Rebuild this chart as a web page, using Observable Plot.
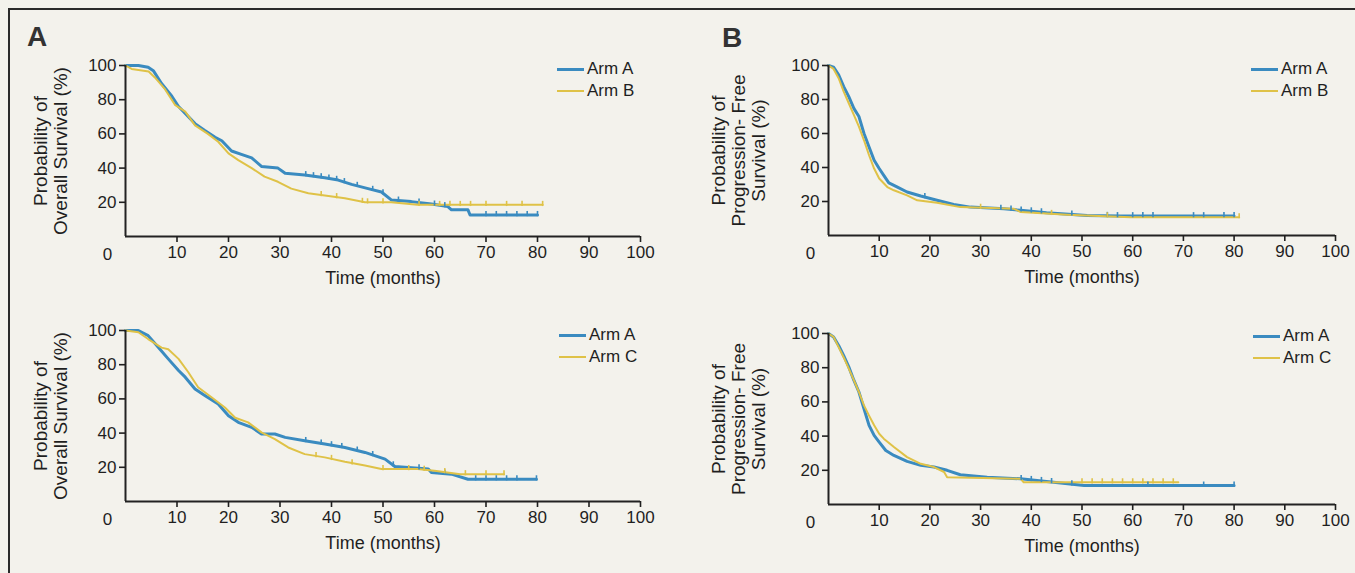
<!DOCTYPE html>
<html>
<head>
<meta charset="utf-8">
<script src="https://cdn.jsdelivr.net/npm/d3@7"></script>
<script src="https://cdn.jsdelivr.net/npm/@observablehq/plot@0.6"></script>
<style>
  html, body { margin: 0; padding: 0; background: #f3f2ec; }
  #stage { position: relative; width: 1355px; height: 573px; overflow: hidden; background: #f3f2ec;
           font-family: "Liberation Sans", Arial, sans-serif; color: #1f1f1f; }
  .frame-top { position: absolute; left: 8px; top: 8px; width: 1347px; height: 2px; background: #2a2a2a; }
  .frame-left { position: absolute; left: 8px; top: 8px; width: 2px; height: 565px; background: #2a2a2a; }
  .panel { position: absolute; }
  .letter { position: absolute; font-weight: bold; font-size: 28px; line-height: 28px; color: #333; }
  .legend { position: absolute; font-size: 17px; }
  .legend .item { display: flex; align-items: center; height: 22px; line-height: 22px; }
  .legend .sw { display: inline-block; width: 27px; margin-right: 3px; }
</style>
</head>
<body>
<div id="stage">
  <div class="frame-top"></div>
  <div class="frame-left"></div>
</div>
<script>
// ---------- data ----------
const xTicks = [10, 20, 30, 40, 50, 60, 70, 80, 90, 100];
const yTicks = [20, 40, 60, 80, 100];
const xLabel = "Time (months)";
const osLabel = "Probability of\nOverall Survival (%)";
const pfsLabel = "Probability of\nProgression- Free\nSurvival (%)";
const armNames = ["Arm A", "Arm B", "Arm C"];
const colors = { "Arm A": "#3a8bc0", "Arm B": "#dfc247", "Arm C": "#dfc247" };

// Panel A top: overall survival, Arm A vs Arm B
const osAB_A_t = [0, 2.5, 4.4, 5.4, 7.0, 9.0, 10.3, 11.6, 13.5, 15.4, 17.4, 18.7, 20.6, 22.5, 24.5, 26.4, 29.6, 31.0, 34.8, 38.7, 41.3, 43.9, 47.1, 49.7, 51.6, 55.5, 59.4, 62.6, 63.3, 66.5, 66.9, 80];
const osAB_A_s = [100, 100, 99, 97, 89.5, 82, 76, 72, 66, 62, 58, 56, 50, 48, 46, 41, 40, 37, 36, 34.4, 33, 30.5, 28, 26, 21.4, 20.4, 19, 17.5, 15.6, 15.6, 12.6, 12.6];
const osAB_B_t = [0, 1.2, 4.5, 5.7, 7.7, 9.6, 11.6, 13.5, 16, 18, 20, 21.9, 24.5, 27, 29.6, 32.2, 35.5, 38.7, 42.6, 46.5, 51.6, 56.7, 81];
const osAB_B_s = [100, 98, 96.5, 93, 86, 77, 73, 65, 60, 55.4, 48.6, 44.7, 40, 35, 32, 28, 25.3, 24, 22.4, 20, 20, 18.5, 18.5];
const osAB_A_cens = [35, 36.5, 38, 39.5, 41, 42.5, 45, 48, 50, 53, 57, 60, 62, 70, 72, 74, 76, 78, 80];
const osAB_B_cens = [38, 41, 46, 47, 50, 57, 61, 63, 65, 67, 70, 74, 77, 81];

// Panel B top: progression-free survival, Arm A vs Arm B
const pfsAB_A_t = [0, 1, 2, 3, 4, 5, 6, 7, 8, 9, 10, 10.9, 11.9, 13.6, 15.5, 18.2, 21.4, 24.7, 28, 34.6, 37.9, 43, 51, 57.6, 80];
const pfsAB_A_s = [100, 99, 94.5, 87.6, 81.7, 74.8, 70, 60, 52, 44.3, 39.4, 35.4, 31, 28.5, 25.6, 23.2, 20.7, 18.3, 16.7, 15.7, 14.8, 13.4, 11.8, 11.4, 11.4];
const pfsAB_B_t = [0, 1, 2, 3, 4, 5, 6, 7, 8, 9, 10, 11.6, 12.9, 15.5, 17.5, 21.4, 26, 36.6, 37.9, 47.1, 59.6, 81];
const pfsAB_B_s = [100, 98, 92.5, 84.6, 77.8, 71, 64, 56, 47.2, 39.4, 33.5, 28.5, 26.6, 23.6, 20.7, 19.3, 16.7, 15.7, 13.8, 12.2, 10.8, 10.8];
const pfsAB_A_cens = [19, 34, 36, 38, 40, 42, 48, 55, 57, 60, 62, 64, 72, 74, 78, 80];
const pfsAB_B_cens = [30, 44, 55, 81];

// Bottom left: overall survival, Arm A vs Arm C
const osAC_A_t = [0, 2.5, 4.4, 6.4, 8.3, 10.3, 11.6, 13.5, 15.4, 18, 20, 21.9, 24.5, 26.4, 29, 31, 34.8, 38.7, 42.6, 46.5, 50.4, 52.3, 58.8, 59.4, 63.3, 66.5, 79.8];
const osAC_A_s = [100, 100, 97, 90, 83.4, 76.6, 72.7, 65.8, 62, 57, 50.2, 46.3, 43.4, 39.5, 39.5, 37.5, 35.5, 33.6, 31.6, 28.7, 24.8, 20.5, 19, 17, 16, 13, 13];
const osAC_C_t = [0, 2.5, 4.4, 7, 8.3, 10.3, 12.2, 14.1, 16.7, 19.3, 21.3, 23.8, 26.4, 29, 31.6, 34.8, 38.7, 42.6, 46.5, 49.7, 56.7, 60, 65, 73.5];
const osAC_C_s = [100, 99, 95, 90, 89, 83.4, 75.6, 66.8, 61, 55, 49, 46.3, 40.4, 36.5, 31.6, 27.7, 25.8, 23.2, 21, 19, 19, 18, 16, 16];
const osAC_A_cens = [35, 38, 40, 42, 45, 48, 52, 57, 62, 68, 70, 72, 74, 76, 79.8];
const osAC_C_cens = [37, 40, 44, 50, 55, 58, 62, 66, 70, 73.5];

// Bottom right: progression-free survival, Arm A vs Arm C
const pfsAC_A_t = [0, 1, 2, 3, 4, 5, 6, 7, 8, 9, 10, 11.3, 12.9, 15.5, 18.2, 20.8, 23.4, 26, 31.3, 37.9, 43, 50.4, 80];
const pfsAC_A_s = [100, 98, 93, 87, 80.5, 72.7, 65.8, 56, 46.3, 40.4, 36.5, 31.6, 28.7, 25.2, 22.9, 21.9, 20, 17.4, 16, 15, 13.5, 11.1, 11.1];
const pfsAC_C_t = [0, 1, 2, 3, 4, 5, 6, 7, 8, 9, 10, 10.9, 12.9, 15.5, 18.2, 20.8, 22.8, 23.4, 37.9, 38.5, 69];
const pfsAC_C_s = [100, 98, 92, 86, 79.5, 72.7, 65.8, 58, 52, 46.3, 41.4, 38.5, 33.6, 27.7, 23.8, 21.9, 19, 16, 15, 13, 13];
const pfsAC_A_cens = [38, 40, 42, 44, 48, 63, 74, 80];
const pfsAC_C_cens = [50, 52, 54, 56, 58, 60, 62, 64, 66, 68];

// ---------- drawing ----------
const stage = document.getElementById("stage");
const fontFamily = '"Liberation Sans", Arial, sans-serif';

function rows(times, surv) { return times.map((t, i) => ({ t, s: surv[i] })); }
function survAt(t, times, surv) {
  const i = d3.bisectRight(times, t) - 1;
  if (i >= times.length - 1) return surv[surv.length - 1];
  const f = (t - times[i]) / (times[i + 1] - times[i]);
  return surv[i] + f * (surv[i + 1] - surv[i]);
}
const censorSymbol = {
  draw(ctx, size) {
    const r = Math.sqrt(size / Math.PI);
    ctx.moveTo(0, -r);
    ctx.lineTo(0, r * 0.3);
  }
};

function panel(cfg) {
  const marks = [];
  cfg.series.forEach(sr => {
    marks.push(Plot.line(rows(sr.t, sr.s), { x: "t", y: "s", stroke: colors[sr.name], strokeWidth: sr.name === "Arm A" ? 3 : 2 }));
  });
  cfg.series.forEach(sr => {
    const cd = sr.cens.map(t => ({ t, s: survAt(t, sr.t, sr.s) }));
    marks.push(Plot.dot(cd, { x: "t", y: "s", symbol: censorSymbol, r: 4, stroke: colors[sr.name], strokeWidth: 1.6, fill: "none" }));
  });
  marks.push(
    Plot.ruleX([0], { stroke: "#222", strokeWidth: 2 }),
    Plot.ruleY([0], { stroke: "#222", strokeWidth: 2 }),
    Plot.axisX({ ticks: xTicks, tickSize: 6, tickPadding: 3, label: null, strokeWidth: 1.6, fontSize: 17 }),
    Plot.axisY({ ticks: yTicks, tickSize: 6, tickPadding: 3, label: null, strokeWidth: 1.6, fontSize: 17 }),
    Plot.text([0], { x: d => d, y: () => 0, text: d => String(d), dx: -18, dy: 18, fontSize: 17, fill: "#1f1f1f" }),
    Plot.text([xLabel], { frameAnchor: "bottom", dy: 47, fontSize: 18, fill: "#1f1f1f" }),
    Plot.text([cfg.ylabel], { frameAnchor: "left", textAnchor: "middle", lineAnchor: "middle", rotate: -90, dx: cfg.ylabelDx, fontSize: 19, lineHeight: 1.05, fill: "#1f1f1f" })
  );
  const svg = Plot.plot({
    width: cfg.width, height: cfg.height,
    marginLeft: cfg.mL, marginRight: cfg.mR, marginTop: cfg.mT, marginBottom: cfg.mB,
    x: { domain: [0, 100] },
    y: { domain: [0, 100] },
    style: { fontFamily, fontSize: "17px", background: "transparent", color: "#1f1f1f", overflow: "visible" },
    marks
  });
  const wrap = document.createElement("div");
  wrap.className = "panel";
  wrap.style.left = cfg.left + "px";
  wrap.style.top = cfg.top + "px";
  wrap.appendChild(svg);
  stage.appendChild(wrap);

  const lg = document.createElement("div");
  lg.className = "legend";
  lg.style.left = cfg.legend[0] + "px";
  lg.style.top = cfg.legend[1] + "px";
  cfg.series.forEach(sr => {
    const it = document.createElement("div");
    it.className = "item";
    const sw = document.createElement("span");
    sw.className = "sw";
    sw.style.height = (sr.name === "Arm A" ? 3 : 2) + "px";
    sw.style.background = colors[sr.name];
    it.appendChild(sw);
    it.appendChild(document.createTextNode(sr.name));
    lg.appendChild(it);
  });
  stage.appendChild(lg);
}

function letter(txt, x, y) {
  const d = document.createElement("div");
  d.className = "letter";
  d.style.left = x + "px";
  d.style.top = y + "px";
  d.textContent = txt;
  stage.appendChild(d);
}

panel({ left: 0, top: 0, width: 680, height: 300, mL: 125, mR: 40, mT: 65, mB: 64, ylabel: osLabel, ylabelDx: -75,
  legend: [557, 58],
  series: [
    { name: armNames[0], t: osAB_A_t, s: osAB_A_s, cens: osAB_A_cens },
    { name: armNames[1], t: osAB_B_t, s: osAB_B_s, cens: osAB_B_cens }
  ] });
panel({ left: 680, top: 0, width: 675, height: 300, mL: 148, mR: 20, mT: 65, mB: 65, ylabel: pfsLabel, ylabelDx: -90,
  legend: [1251, 58],
  series: [
    { name: armNames[0], t: pfsAB_A_t, s: pfsAB_A_s, cens: pfsAB_A_cens },
    { name: armNames[1], t: pfsAB_B_t, s: pfsAB_B_s, cens: pfsAB_B_cens }
  ] });
panel({ left: 0, top: 290, width: 680, height: 283, mL: 125, mR: 40, mT: 40, mB: 72, ylabel: osLabel, ylabelDx: -75,
  legend: [559, 324],
  series: [
    { name: armNames[0], t: osAC_A_t, s: osAC_A_s, cens: osAC_A_cens },
    { name: armNames[2], t: osAC_C_t, s: osAC_C_s, cens: osAC_C_cens }
  ] });
panel({ left: 680, top: 290, width: 675, height: 283, mL: 148, mR: 20, mT: 43, mB: 69, ylabel: pfsLabel, ylabelDx: -90,
  legend: [1253, 325],
  series: [
    { name: armNames[0], t: pfsAC_A_t, s: pfsAC_A_s, cens: pfsAC_A_cens },
    { name: armNames[2], t: pfsAC_C_t, s: pfsAC_C_s, cens: pfsAC_C_cens }
  ] });

letter("A", 27, 23);
letter("B", 722, 24);
</script>
</body>
</html>
